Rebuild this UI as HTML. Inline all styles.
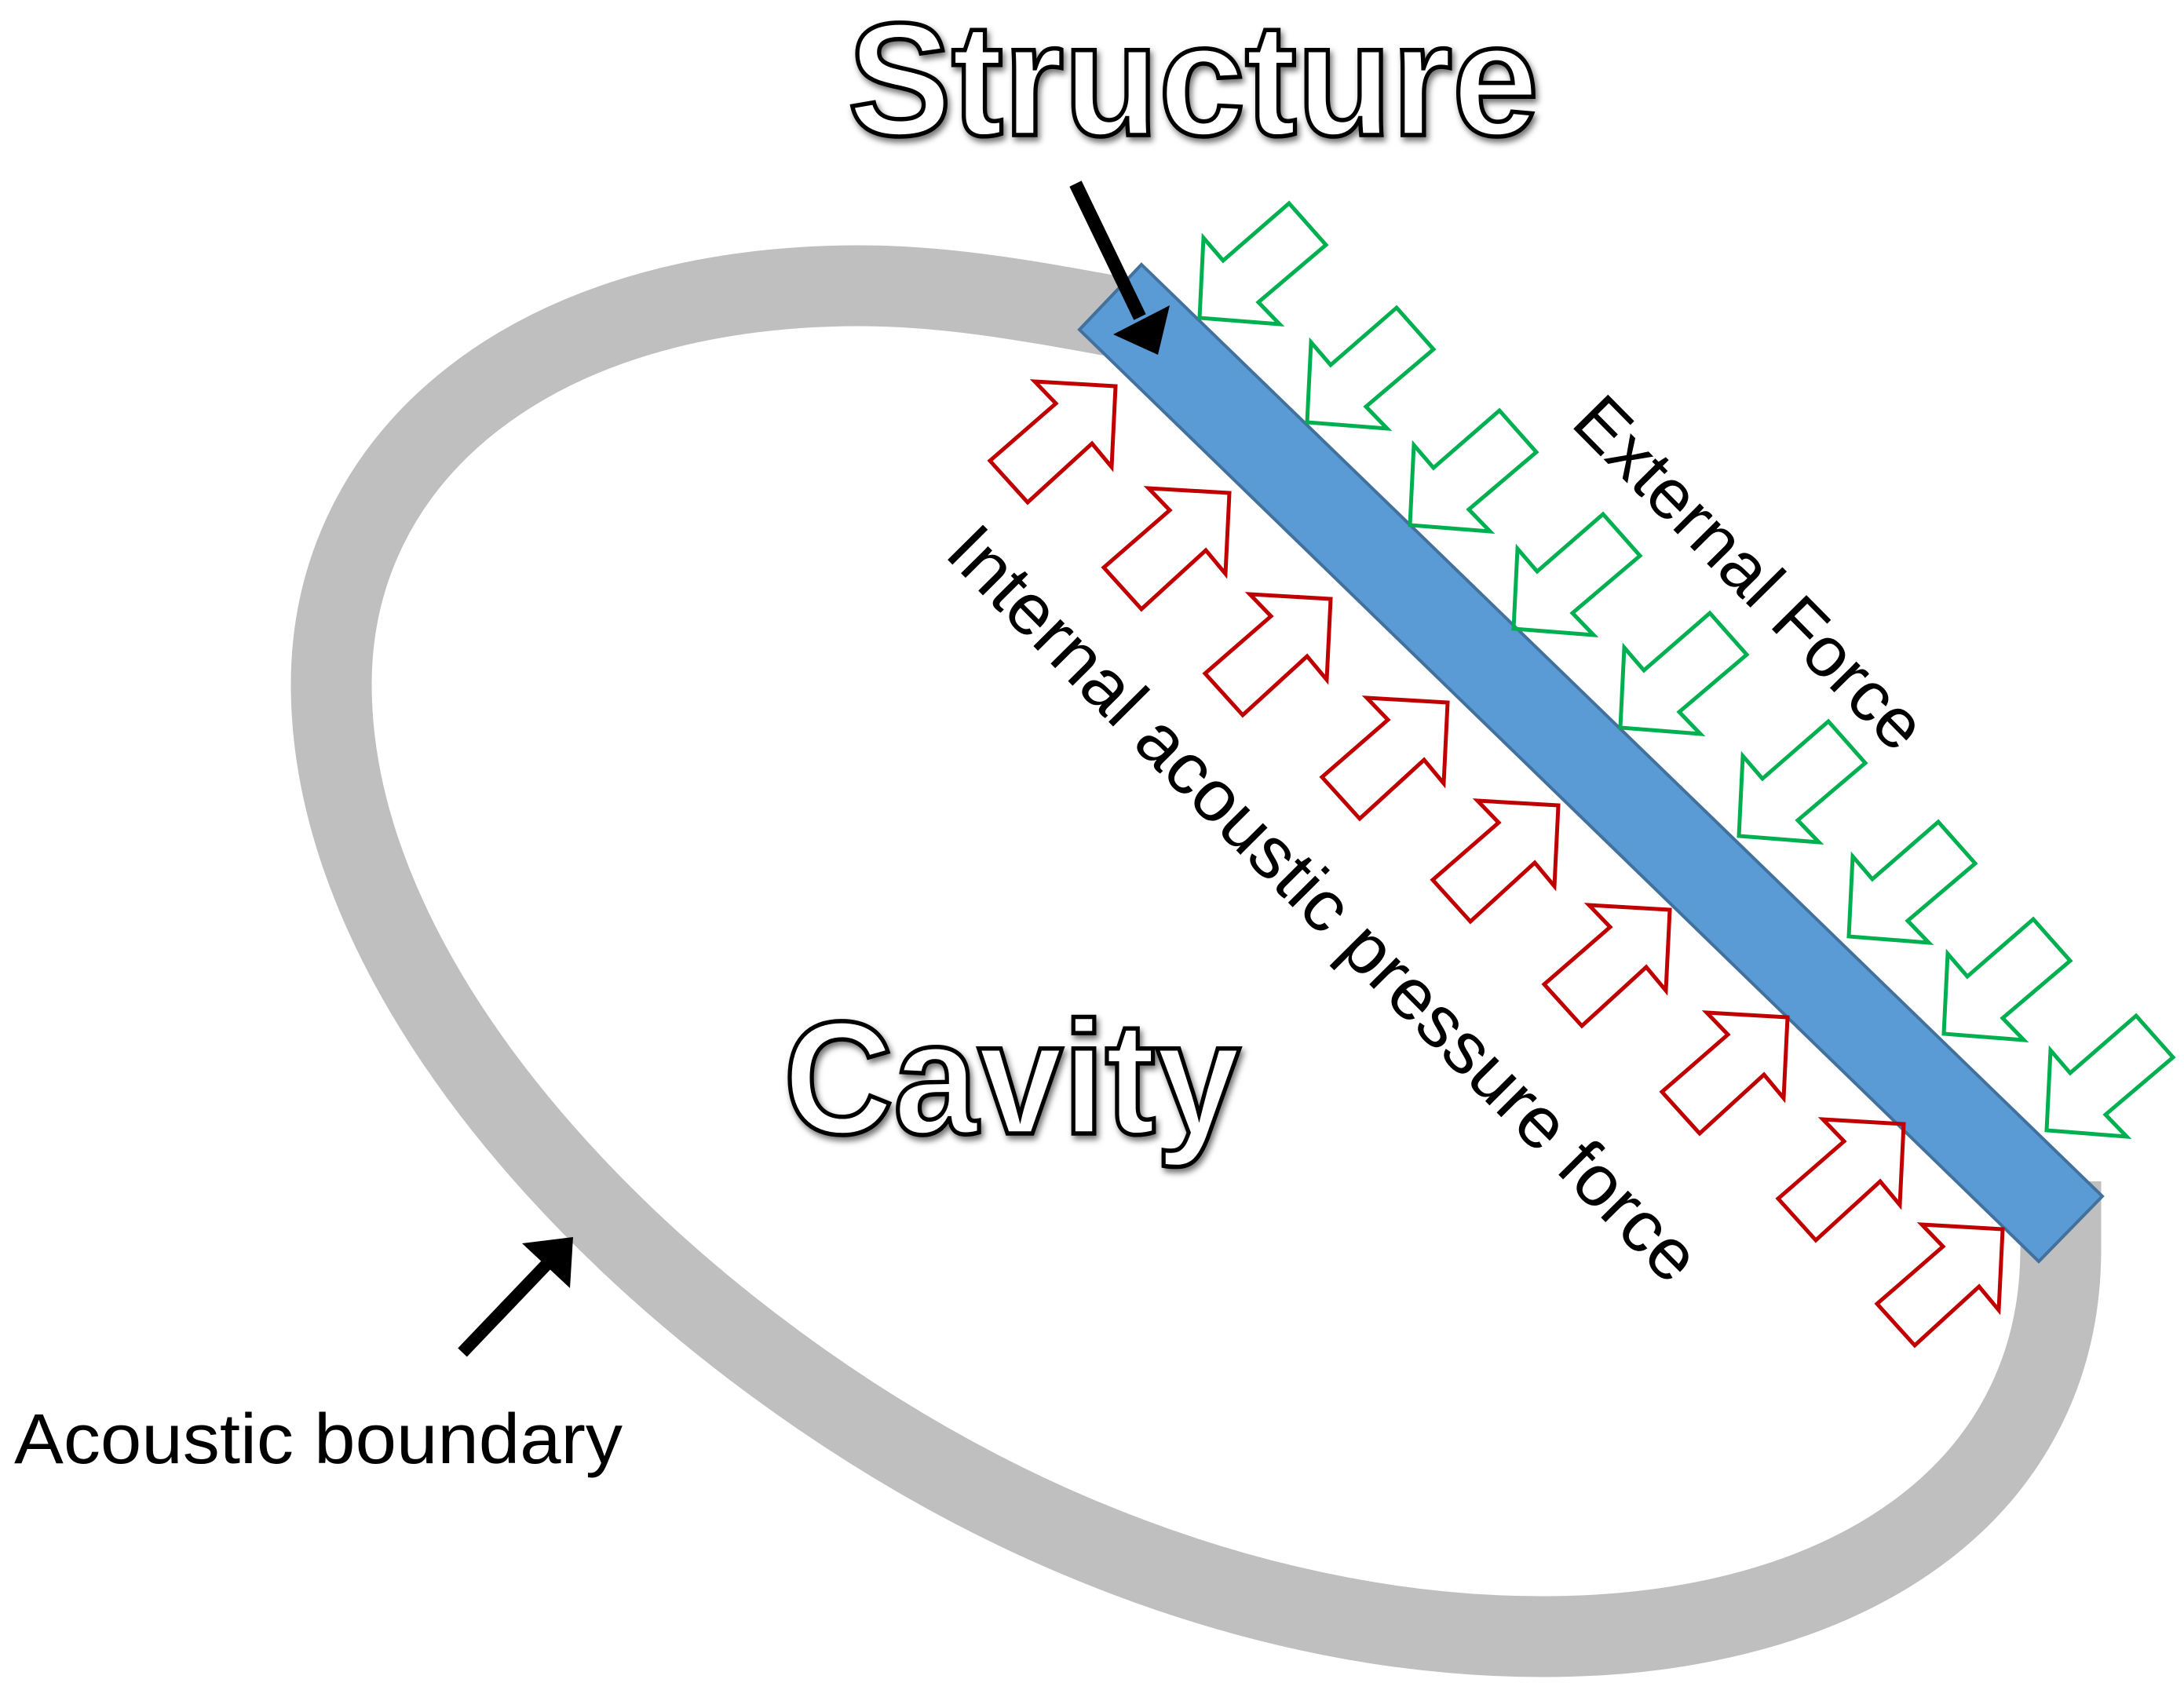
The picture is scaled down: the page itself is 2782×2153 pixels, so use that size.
<!DOCTYPE html>
<html><head><meta charset="utf-8"><style>html,body{margin:0;padding:0;background:#fff}svg{display:block}text{font-family:"Liberation Sans",sans-serif}</style></head><body>
<svg xmlns="http://www.w3.org/2000/svg" width="2782" height="2153" viewBox="0 0 2782 2153">
<defs>
<filter id="s" x="-5%" y="-10%" width="110%" height="125%"><feDropShadow dx="3" dy="5" stdDeviation="4" flood-color="#000" flood-opacity=".55"/></filter>
<polygon id="r" points="0,0 -103,-6 -76,22 -160,95 -112,148 -30,73 -5,103" fill="none" stroke="#c00000" stroke-width="5"/>
<polygon id="g" points="0,0 5,-102 30,-73 114,-146 161,-93 75,-20 102,8" fill="none" stroke="#00b050" stroke-width="5"/>
</defs>
<rect width="2782" height="2153" fill="#fff"/>
<path d="M1430 405C1320 385 1210 364 1095 364C675 364 422 582 422 872C422 1292 880 1729 1312 1931C1527 2031 1750 2085 1965 2085C2355 2085 2625 1900 2625 1591L2625 1505" fill="none" stroke="#bfbfbf" stroke-width="103"/>
<polygon points="1454,337 2678,1524 2597,1607 1375,420" fill="#5b9bd5" stroke="#41719c" stroke-width="4"/>
<use href="#r" x="1421" y="492"/><use href="#r" x="1566" y="628"/><use href="#r" x="1695" y="763"/><use href="#r" x="1844" y="895"/><use href="#r" x="1985" y="1026"/><use href="#r" x="2127" y="1159"/><use href="#r" x="2277" y="1296"/><use href="#r" x="2425" y="1432"/><use href="#r" x="2551" y="1566"/>
<use href="#g" x="1528" y="405"/><use href="#g" x="1665" y="538"/><use href="#g" x="1796" y="669"/><use href="#g" x="1928" y="801"/><use href="#g" x="2064" y="927"/><use href="#g" x="2215" y="1065"/><use href="#g" x="2355" y="1193"/><use href="#g" x="2476" y="1317"/><use href="#g" x="2607" y="1440"/>
<line x1="1370" y1="234" x2="1452" y2="404" stroke="#000" stroke-width="17"/>
<polygon points="1475,452 1490,389 1418,426" fill="#000"/>
<line x1="589" y1="1723" x2="697" y2="1610" stroke="#000" stroke-width="16"/>
<polygon points="730,1576 665,1584 726,1641" fill="#000"/>
<text x="1080" y="172" font-size="205" font-weight="bold" fill="#fff" stroke="#000" stroke-width="5.5" textLength="880" lengthAdjust="spacingAndGlyphs" filter="url(#s)">Structure</text>
<text x="998" y="1444" font-size="205" font-weight="bold" fill="#fff" stroke="#000" stroke-width="5.5" textLength="582" lengthAdjust="spacingAndGlyphs" filter="url(#s)">Cavity</text>
<text x="18" y="1864" font-size="90" textLength="775" lengthAdjust="spacingAndGlyphs">Acoustic boundary</text>
<text transform="translate(1999 541) rotate(45.3)" font-size="90" textLength="592" lengthAdjust="spacingAndGlyphs">External Force</text>
<text transform="translate(1201 707) rotate(45.2)" font-size="92" textLength="1314" lengthAdjust="spacingAndGlyphs">Internal acoustic pressure force</text>
</svg>
</body></html>
